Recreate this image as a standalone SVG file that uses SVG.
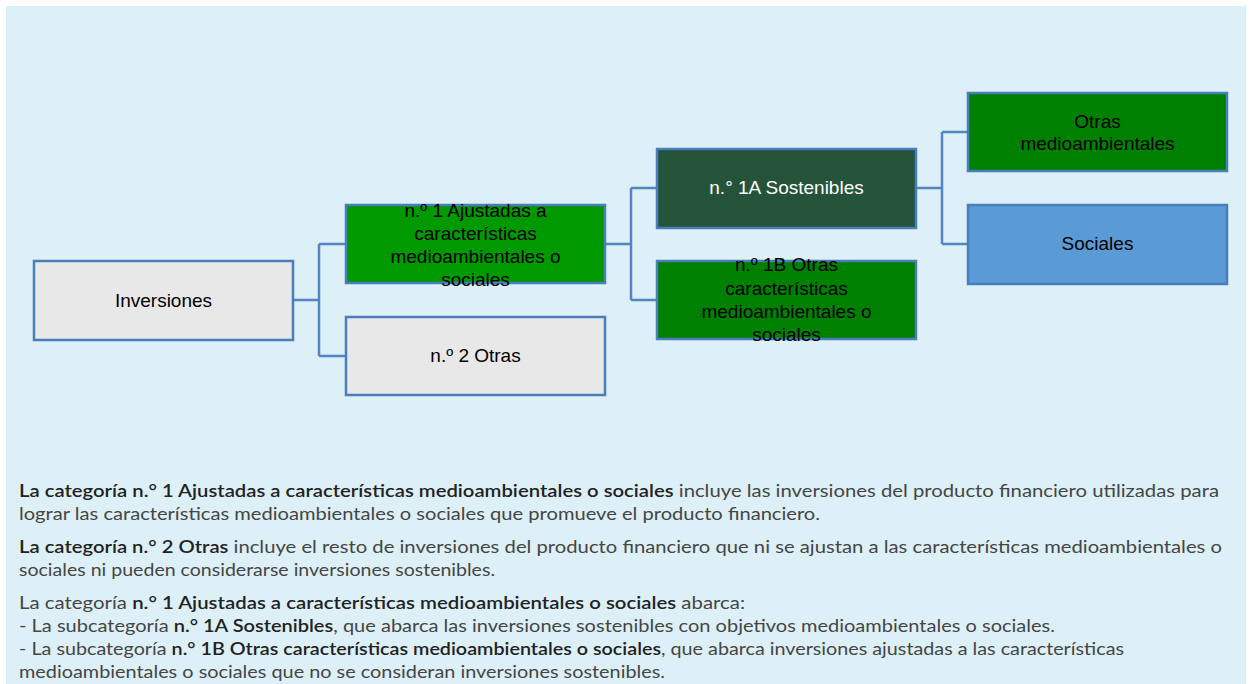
<svg xmlns="http://www.w3.org/2000/svg" width="1254" height="684" viewBox="0 0 1254 684">
<style>
.box{stroke:#4A7EBB;stroke-width:2.5}
.conn{fill:none;stroke:#5485C0;stroke-width:2.5}
.lbl{font-family:"Liberation Sans",Arial,sans-serif;font-size:19px;text-anchor:middle;fill:#000}
.w{fill:#fff}
.p{font-family:Lato,"Open Sans",sans-serif;font-size:16.5px;fill:#454545}
.b{font-weight:600;fill:#222}
</style>
<rect width="1254" height="684" fill="#fff"/>
<rect x="6" y="6" width="1240" height="678" fill="#DDF0F7"/>
<g id="connectors">
<path class="conn" d="M293 300H319M319 244V356M319 244H346M319 356H346"/>
<path class="conn" d="M605 244H631M631 188V300M631 188H657M631 300H657"/>
<path class="conn" d="M916 188H942M942 132V244M942 132H968M942 244H968"/>
</g>
<g id="inversiones">
<rect class="box" x="34" y="261" width="259" height="79" fill="#E8E8E8"/>
<text class="lbl" x="163.5" y="307">Inversiones</text>
</g>
<g id="n1">
<rect class="box" x="346" y="205" width="259" height="78" fill="#009900"/>
<text class="lbl" x="475.5" y="217">n.º 1 Ajustadas a</text>
<text class="lbl" x="475.5" y="239.5">características</text>
<text class="lbl" x="475.5" y="262.5">medioambientales o</text>
<text class="lbl" x="475.5" y="285.5">sociales</text>
</g>
<g id="n2">
<rect class="box" x="346" y="317" width="259" height="78" fill="#E8E8E8"/>
<text class="lbl" x="475.5" y="362">n.º 2 Otras</text>
</g>
<g id="n1a">
<rect class="box" x="657" y="149" width="259" height="79" fill="#25533A"/>
<text class="lbl w" x="786.5" y="194">n.° 1A Sostenibles</text>
</g>
<g id="n1b">
<rect class="box" x="657" y="261" width="259" height="78" fill="#008000"/>
<text class="lbl" x="786.5" y="271">n.º 1B Otras</text>
<text class="lbl" x="786.5" y="294.5">características</text>
<text class="lbl" x="786.5" y="318">medioambientales o</text>
<text class="lbl" x="786.5" y="341">sociales</text>
</g>
<g id="otras-medio">
<rect class="box" x="968" y="93" width="259" height="78" fill="#008000"/>
<text class="lbl" x="1097.5" y="128">Otras</text>
<text class="lbl" x="1097.5" y="150">medioambientales</text>
</g>
<g id="sociales">
<rect class="box" x="968" y="205" width="259" height="79" fill="#5B9BD5"/>
<text class="lbl" x="1097.5" y="250">Sociales</text>
</g>
<g id="text">
<text class="p" x="19" y="497" textLength="1200" lengthAdjust="spacingAndGlyphs"><tspan class="b">La categoría n.° 1 Ajustadas a características medioambientales o sociales</tspan> incluye las inversiones del producto financiero utilizadas para</text>
<text class="p" x="19" y="520" textLength="801" lengthAdjust="spacingAndGlyphs">lograr las características medioambientales o sociales que promueve el producto financiero.</text>
<text class="p" x="19" y="553" textLength="1203" lengthAdjust="spacingAndGlyphs"><tspan class="b">La categoría n.° 2 Otras</tspan> incluye el resto de inversiones del producto financiero que ni se ajustan a las características medioambientales o</text>
<text class="p" x="19" y="576" textLength="476" lengthAdjust="spacingAndGlyphs">sociales ni pueden considerarse inversiones sostenibles.</text>
<text class="p" x="19" y="609" textLength="726" lengthAdjust="spacingAndGlyphs">La categoría <tspan class="b">n.° 1 Ajustadas a características medioambientales o sociales</tspan> abarca:</text>
<text class="p" x="19" y="632" textLength="1036" lengthAdjust="spacingAndGlyphs">- La subcategoría <tspan class="b">n.° 1A Sostenibles</tspan>, que abarca las inversiones sostenibles con objetivos medioambientales o sociales.</text>
<text class="p" x="19" y="655" textLength="1105" lengthAdjust="spacingAndGlyphs">- La subcategoría <tspan class="b">n.° 1B Otras características medioambientales o sociales</tspan>, que abarca inversiones ajustadas a las características</text>
<text class="p" x="19" y="678" textLength="646" lengthAdjust="spacingAndGlyphs">medioambientales o sociales que no se consideran inversiones sostenibles.</text>
</g>
</svg>
